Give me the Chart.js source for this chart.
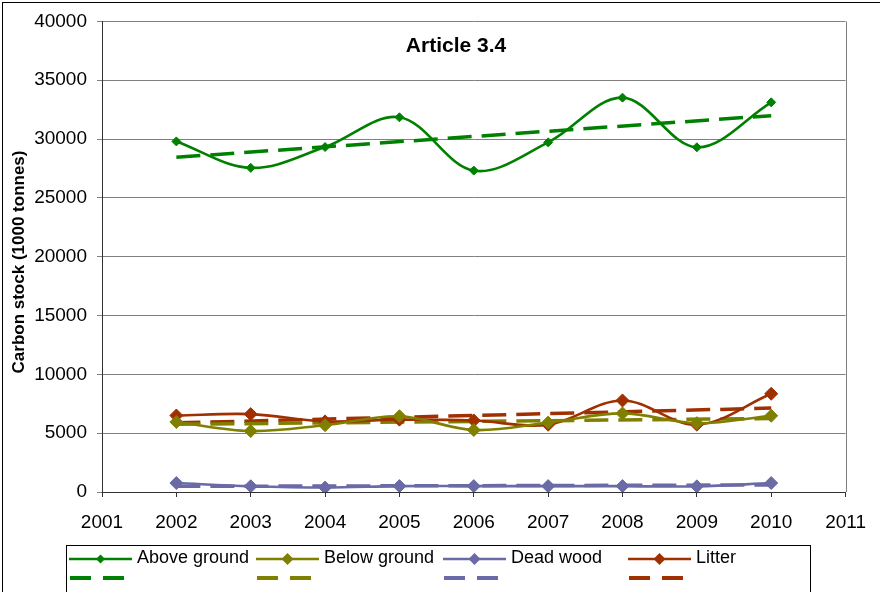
<!DOCTYPE html>
<html>
<head>
<meta charset="utf-8">
<script src="https://cdn.jsdelivr.net/npm/chart.js@4.4.1/dist/chart.umd.min.js"></script>
<style>
  html, body { margin: 0; padding: 0; background: #fff; }
  #wrap { width: 880px; height: 592px; }
</style>
</head>
<body>
<div id="wrap"><canvas id="c" width="880" height="592"></canvas></div>
<script>
/* Carbon stock, Article 3.4 */
const years = [2002, 2003, 2004, 2005, 2006, 2007, 2008, 2009, 2010];
const aboveGround = [29800, 27550, 29320, 31850, 27320, 29720, 33520, 29300, 33120];
const belowGround = [5950, 5180, 5680, 6440, 5270, 5900, 6680, 5850, 6480];
const deadWood    = [760, 490, 380, 500, 500, 500, 500, 480, 760];
const litter      = [6500, 6620, 6000, 6150, 6080, 5720, 7780, 5720, 8350];

// trend lines: value at first and last year
const trendYears  = [2002, 2010];
const aboveTrend  = [28450, 31990];
const belowTrend  = [5750, 6250];
const deadTrend   = [480, 600];
const litterTrend = [5880, 7130];

const seriesNames  = ["Above ground", "Below ground", "Dead wood", "Litter"];
const seriesColors = ["#008000", "#808000", "#6a6aa6", "#a03000"];
const xTicks = [2001, 2011];
const yTicks = [0, 40000, 5000];   // min, max, step

const FONT = "'Liberation Sans', Arial, sans-serif";

const pts = (xs, ys) => xs.map((x, i) => ({ x, y: ys[i] }));

function solid(i, data, r) {
  return {
    label: seriesNames[i], data: pts(years, data),
    borderColor: seriesColors[i], backgroundColor: seriesColors[i],
    borderWidth: 2.6, tension: 0.35,
    pointStyle: "rectRot", pointRadius: r, pointBorderWidth: 1,
    pointBorderColor: seriesColors[i], pointBackgroundColor: seriesColors[i],
  };
}
function dashed(i, data) {
  return {
    label: seriesNames[i] + " trend", data: pts(trendYears, data),
    borderColor: seriesColors[i], borderWidth: 3.5, borderDash: [24, 10],
    pointRadius: 0, tension: 0,
  };
}

/* ---------- extra drawing: frame, titles, legend ---------- */
const decor = {
  id: "decor",
  afterDraw(chart) {
    const ctx = chart.ctx, a = chart.chartArea;
    ctx.save();
    // outer frame
    ctx.strokeStyle = "#000"; ctx.lineWidth = 1;
    ctx.strokeRect(2.5, 2.5, 890, 600);
    // plot area right edge
    ctx.strokeStyle = "#808080";
    ctx.beginPath(); ctx.moveTo(Math.round(a.right) + 0.5, a.top); ctx.lineTo(Math.round(a.right) + 0.5, a.bottom); ctx.stroke();

    // title
    ctx.fillStyle = "#000";
    ctx.font = "bold 21px " + FONT;
    ctx.textAlign = "center"; ctx.textBaseline = "middle";
    ctx.fillText("Article 3.4", 456, 46);

    // y axis title
    ctx.save();
    ctx.translate(19, 262); ctx.rotate(-Math.PI / 2);
    ctx.font = "bold 17px " + FONT;
    ctx.fillText("Carbon stock (1000 tonnes)", 0, 0);
    ctx.restore();

    // legend box
    ctx.strokeStyle = "#000"; ctx.lineWidth = 1;
    ctx.strokeRect(66.5, 545.5, 744, 60);
    const itemX = [69, 256, 443, 628];
    ctx.font = "18px " + FONT;
    ctx.textAlign = "left";
    seriesNames.forEach((name, i) => {
      const x0 = itemX[i], c = seriesColors[i];
      ctx.strokeStyle = c; ctx.fillStyle = c;
      ctx.lineWidth = 2.6; ctx.setLineDash([]);
      ctx.beginPath(); ctx.moveTo(x0, 559); ctx.lineTo(x0 + 63, 559); ctx.stroke();
      const r = i === 0 ? 4.5 : 6;
      const cx = x0 + 31.5;
      ctx.beginPath();
      ctx.moveTo(cx, 559 - r); ctx.lineTo(cx + r, 559); ctx.lineTo(cx, 559 + r); ctx.lineTo(cx - r, 559);
      ctx.closePath(); ctx.fill();
      ctx.fillStyle = "#000";
      ctx.fillText(name, x0 + 68, 558);
      // trend sample
      ctx.strokeStyle = c; ctx.lineWidth = 4; ctx.setLineDash([21, 12]);
      ctx.beginPath(); ctx.moveTo(x0 + 1, 578); ctx.lineTo(x0 + 55, 578); ctx.stroke();
    });
    ctx.restore();
  },
};

new Chart(document.getElementById("c"), {
  type: "line",
  data: {
    datasets: [
      solid(0, aboveGround, 4.5),
      solid(1, belowGround, 6.5),
      solid(2, deadWood, 6.5),
      solid(3, litter, 6.5),
      dashed(0, aboveTrend),
      dashed(1, belowTrend),
      dashed(2, deadTrend),
      dashed(3, litterTrend),
    ],
  },
  options: {
    responsive: false, animation: false, devicePixelRatio: 1,
    layout: { padding: { left: 0, right: 29, top: 21, bottom: 0 } },
    plugins: { legend: { display: false }, tooltip: { enabled: false }, title: { display: false } },
    scales: {
      x: {
        type: "linear", min: xTicks[0], max: xTicks[1],
        afterFit: (s) => { s.height = 100; },
        grid: { drawOnChartArea: false, drawTicks: true, tickLength: 5, tickColor: "#333" },
        border: { color: "#333", width: 1 },
        ticks: { stepSize: 1, padding: 14, color: "#000", font: { family: FONT, size: 19 }, callback: (v) => String(v) },
      },
      y: {
        min: yTicks[0], max: yTicks[1],
        afterFit: (s) => { s.width = 102; },
        grid: { color: "#808080", tickLength: 5, tickColor: "#808080" },
        border: { color: "#333", width: 1 },
        ticks: { stepSize: yTicks[2], padding: 10, color: "#000", font: { family: FONT, size: 19 }, callback: (v) => String(v) },
      },
    },
  },
  plugins: [decor],
});
</script>
</body>
</html>
